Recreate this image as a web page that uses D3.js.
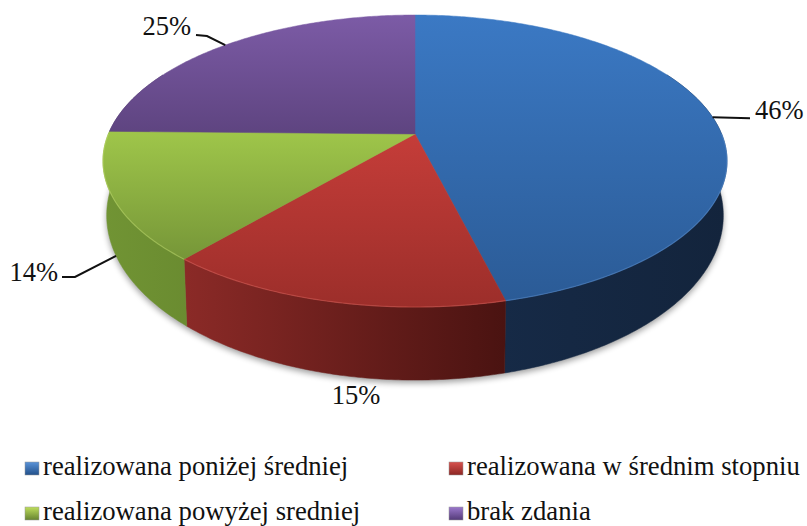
<!DOCTYPE html>
<html><head><meta charset="utf-8">
<script src="https://cdn.jsdelivr.net/npm/d3@7/dist/d3.min.js"></script>
<style>html,body{margin:0;padding:0;background:#fff}svg{display:block}text{font-family:"Liberation Serif",serif;fill:#111}</style>
</head><body><div id="c"></div>
<script>
const categories = ["realizowana poniżej średniej","realizowana w średnim stopniu","realizowana powyżej sredniej","brak zdania"];
const values = [46.1,15.1,14.1,24.7];
const labels = ["46%","15%","14%","25%"];

const W=807,H=526,CX=415;
const topColors=[["#3b79c4","#2b5b96"],["#c53d39","#9c2e2a"],["#9fc64a","#769638"],["#7c5ba6","#5e4480"]];
const wallColors=[["#172c4a","#13243c"],["#8b2a27","#4a1311"],["#719434","#587526"],["#4a3566","#3a2850"]];
const rimColors=["#5b93d6","#e0625c","#c3e06c","#9d7ec8"];
const swatch=[["#5a93d8","#22508a"],["#d8524e","#8c2623"],["#bede5c","#668330"],["#9b78cc","#533a78"]];
const labelPos=[{x:755,y:119,a:"start"},{x:356,y:404,a:"middle"},{x:58,y:281,a:"end"},{x:191,y:35,a:"end"}];

// perspective of a flat disc
const persp=0.185;
const topPlane={R:306.6,y0:134,k:141};
const botPlane={R:303,y0:185,k:159};
const project=(p,t)=>{const u=Math.sin(t),v=Math.cos(t),w=1+persp*v;return [CX+p.R*u/w,p.y0-p.k*v/w];};
const arcPts=(p,a,b)=>{const n=Math.max(2,Math.ceil(Math.abs(b-a)/0.01));return d3.range(n+1).map(i=>project(p,a+(b-a)*i/n));};
const line=d3.line();

const pie=d3.pie().sort(null).value(d=>d)(values);
const svg=d3.select("#c").append("svg").attr("width",W).attr("height",H);
const defs=svg.append("defs");
defs.append("filter").attr("id","blur").attr("x","-10%").attr("y","-10%").attr("width","120%").attr("height","120%")
  .append("feGaussianBlur").attr("stdDeviation",3);

pie.forEach((d,i)=>{
  const face=[[CX,topPlane.y0],...arcPts(topPlane,d.startAngle,d.endAngle)];
  const ys=face.map(q=>q[1]);
  const g=defs.append("linearGradient").attr("id","t"+i).attr("gradientUnits","userSpaceOnUse")
    .attr("x1",0).attr("x2",0).attr("y1",d3.min(ys)).attr("y2",d3.max(ys));
  g.append("stop").attr("offset",0).attr("stop-color",topColors[i][0]);
  g.append("stop").attr("offset",1).attr("stop-color",topColors[i][1]);
  const xs=face.map(q=>q[0]);
  const w=defs.append("linearGradient").attr("id","w"+i).attr("gradientUnits","userSpaceOnUse")
    .attr("y1",0).attr("y2",0).attr("x1",d3.min(xs)).attr("x2",d3.max(xs));
  w.append("stop").attr("offset",0).attr("stop-color",wallColors[i][0]);
  w.append("stop").attr("offset",1).attr("stop-color",wallColors[i][1]);
  const sw=defs.append("linearGradient").attr("id","s"+i).attr("x1",0).attr("x2",0).attr("y1",0).attr("y2",1);
  sw.append("stop").attr("offset",0).attr("stop-color",swatch[i][0]);
  sw.append("stop").attr("offset",1).attr("stop-color",swatch[i][1]);
});

// soft shadow under the disc
const frontA=Math.PI*0.35, frontB=Math.PI*1.65;
svg.append("path").attr("fill","#000").attr("opacity",0.38).attr("filter","url(#blur)")
  .attr("transform","translate(0,3)")
  .attr("d",line(arcPts(botPlane,frontA,frontB))+"Z");

// walls
const walls=svg.append("g");
pie.forEach((d,i)=>{
  const a=Math.max(d.startAngle,frontA),b=Math.min(d.endAngle,frontB);
  if(a>=b) return;
  const pts=[...arcPts(topPlane,a,b),...arcPts(botPlane,b,a)];
  walls.append("path").attr("d",line(pts)+"Z").attr("fill",`url(#w${i})`).attr("stroke",`url(#w${i})`).attr("stroke-width",0.5);
});

// faces
const faces=svg.append("g");
pie.forEach((d,i)=>{
  const pts=[[CX,topPlane.y0],...arcPts(topPlane,d.startAngle,d.endAngle)];
  faces.append("path").attr("d",line(pts)+"Z").attr("fill",`url(#t${i})`).attr("stroke",`url(#t${i})`).attr("stroke-width",0.5);
});
// light rim on the front edge
pie.forEach((d,i)=>{
  const a=Math.max(d.startAngle,Math.PI*0.5),b=Math.min(d.endAngle,Math.PI*1.5);
  if(a>=b) return;
  faces.append("path").attr("d",line(arcPts(topPlane,a,b))).attr("fill","none")
    .attr("stroke",rimColors[i]).attr("stroke-width",1.2).attr("opacity",0.45);
});

// leader lines and labels
const leaders=svg.append("g").attr("fill","none").attr("stroke","#111").attr("stroke-width",2);
pie.forEach((d,i)=>{
  const mid=(d.startAngle+d.endAngle)/2;
  const p=labelPos[i];
  if(i===0){const s=project(topPlane,mid);leaders.append("path").attr("d",line([s,[p.x-5,s[1]+1]]));}
  if(i===2){const s=project(botPlane,mid);leaders.append("path").attr("d",line([s,[75,p.y-4],[p.x+4,p.y-4]]));}
  if(i===3){const s=project(topPlane,mid);leaders.append("path").attr("d",line([s,[207,p.y+1],[p.x+5,p.y]]));}
  svg.append("text").attr("x",p.x).attr("y",p.y).attr("text-anchor",p.a).attr("font-size",26.5).text(labels[i]);
});

// legend
const legX=d3.scalePoint().domain([0,1]).range([25,449]);
const legY=d3.scalePoint().domain([0,1]).range([462,507]);
categories.forEach((c,i)=>{
  const col=i%2,row=Math.floor(i/2);
  svg.append("rect").attr("x",legX(col)).attr("y",legY(row)).attr("width",14).attr("height",13)
    .attr("fill",`url(#s${i})`).attr("stroke","#999").attr("stroke-width",0.5);
  svg.append("text").attr("x",legX(col)+18).attr("y",legY(row)+13).attr("font-size",26.7).text(c);
});
</script></body></html>
